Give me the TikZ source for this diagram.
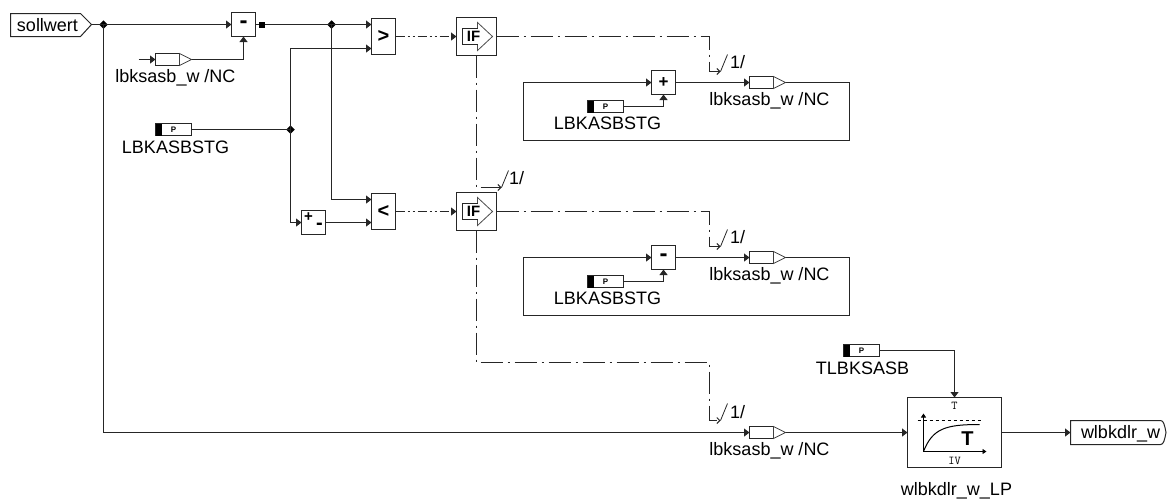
\documentclass[tikz,border=0pt]{standalone}
\usepackage{fontspec}
\setmainfont{Liberation Sans}
\usetikzlibrary{arrows.meta,shapes.geometric}
\tikzset{
  x=1pt,y=-1pt,
  every node/.style={inner sep=0pt,outer sep=0pt},
  base/.style={line width=1pt,line join=miter,draw=black!85},
  sig/.style={base,-{Triangle[length=5.5pt,width=8pt]}},
  wire/.style={base},
  ctl/.style={base,dash pattern=on 22pt off 5pt on 2pt off 5pt},
  ctlarrow/.style={ctl,-{Straight Barb[length=3pt,width=6pt]}},
  ctldd/.style={base,dash pattern=on 9pt off 3pt on 2pt off 3pt on 2pt off 3pt,-{Triangle[length=5.5pt,width=8pt]}},
  blk/.style={draw=black!85,line width=1pt,fill=white,rectangle},
  sq/.style={blk,minimum width=24pt,minimum height=24pt,font=\fontsize{17}{17}\selectfont\bfseries},
  mns/.style={font=\fontsize{24}{24}\selectfont\bfseries},
  cmpb/.style={blk,minimum width=24pt,minimum height=36pt,font=\fontsize{20}{20}\selectfont\bfseries},
  ifb/.style={blk,minimum width=40pt,minimum height=38pt},
  frm/.style={blk,minimum width=326pt,minimum height=58pt},
  port/.style={blk,minimum width=24pt,minimum height=12pt},
  par/.style={blk,minimum width=36pt,minimum height=12pt},
  lbl/.style={font=\fontsize{18}{18}\selectfont},
  ifx/.style={font=\fontsize{15}{15}\selectfont\bfseries},
  tiny/.style={font=\fontsize{8}{8}\selectfont\bfseries},
  jn/.style={diamond,fill=black,minimum width=8.5pt,minimum height=8.5pt},
  tri/.style={draw=black!75,line width=.8pt,fill=white},
}
\begin{document}
\begin{tikzpicture}
\useasboundingbox (0,0) rectangle (1167,499);
\begin{scope}[shift={(.5,.5)}]
% frames
\node[frm] (frameA) at (686,111) {};
\node[frm] (frameB) at (686,286) {};
% main blocks
\node[sq,mns] (minusA) at (243,24) {-};
\node[sq] (plusminus) at (313,222) {};
\node[font=\fontsize{15}{15}\selectfont\bfseries] (pmP) at (308,217) {+};
\node[font=\fontsize{20}{20}\selectfont\bfseries] (pmM) at (319,226) {-};
\node[cmpb] (gt) at (383,36) {>};
\node[cmpb] (lt) at (383,211) {<};
\node[ifb] (ifA) at (476,36) {};
\node[ifb] (ifB) at (476,211) {};
\node[sq] (plusB) at (663,82) {+};
\node[sq,mns] (minusC) at (663,257) {-};
\node[blk,minimum width=94pt,minimum height=70pt] (lp) at (954,432) {};
% junctions / coordinates
\node[jn] (j1) at (103,24) {};
\node[jn] (j2) at (331,24) {};
\node[jn] (j3) at (290,129) {};
\node[fill=black,minimum width=6pt,minimum height=6pt] (sqout) at (261,24) {};
\coordinate (gtA) at (371,24);
\coordinate (gtB) at (371,48);
\coordinate (ltA) at (371,199);
\coordinate (ltB) at (371,222);
\coordinate (mB) at (243,36);
% ports
\node[port] (inA) at (167,59) {};
\node[port] (outA) at (761,82) {};
\node[port] (outB) at (761,257) {};
\node[port] (outC) at (761,432) {};
\draw[tri] (inA.north east) -- (191,59) coordinate (inAt) -- (inA.south east) -- cycle;
\draw[tri] (outA.north east) -- (785,82) coordinate (outAt) -- (outA.south east) -- cycle;
\draw[tri] (outB.north east) -- (785,257) coordinate (outBt) -- (outB.south east) -- cycle;
\draw[tri] (outC.north east) -- (785,432) coordinate (outCt) -- (outC.south east) -- cycle;
% parameters
\node[par] (pA) at (173,129) {}; \node[tiny] (pAt) at (173,129) {P};
\node[par] (pB) at (605,106) {}; \node[tiny] (pBt) at (605,106) {P};
\node[par] (pC) at (605,281) {}; \node[tiny] (pCt) at (605,281) {P};
\node[par] (pD) at (861,350) {}; \node[tiny] (pDt) at (861,350) {P};
\fill[black] (pA.north west) rectangle ++(6,12);
\fill[black] (pB.north west) rectangle ++(6,12);
\fill[black] (pC.north west) rectangle ++(6,12);
\fill[black] (pD.north west) rectangle ++(6,12);
% IF symbols
\foreach \n/\yy in {A/36,B/211}{
  \draw[line width=.8pt,draw=black!70] (462,\yy-8) -- (477,\yy-8) -- (477,\yy-14) -- (492,\yy) -- (477,\yy+14) -- (477,\yy+8) -- (462,\yy+8) -- cycle;
  \draw[line width=1.6pt,draw=black!85] (477,\yy-8) -- (462,\yy-8) -- (462,\yy+8) -- (477,\yy+8);
  \node[ifx] (ift\n) at (473,\yy) {IF};
}
% sollwert and output ports
\node[lbl] (soll) at (47,25) {sollwert};
\draw[blk,fill=none] (10,13) -- (80,13) -- (91,24) coordinate (sollt) -- (80,36) -- (10,36) -- cycle;
\node[lbl] (wlb) at (1120,433) {wlbkdlr\_w};
\draw[blk,fill=none] (1070,420) -- (1160,420) .. controls (1163,420) and (1164,424) .. (1165.5,432) .. controls (1164,440) and (1163,444) .. (1160,444) -- (1070,444) -- cycle;
\coordinate (wlbin) at (1070,432);
% wires
\draw[wire] (sollt) -- (j1.center);
\draw[sig] (j1.center) -- (minusA.west);
\draw[wire] (minusA.east) -- (sqout.west);
\draw[wire] (sqout.east) -- (j2.center);
\draw[sig] (j2.center) -- (gtA);
\draw[sig] (j2.center) |- (ltA);
\draw[sig] (inAt) -| (mB);
\coordinate (inAs) at (138,59);
\draw[sig] (inAs) -- (inA.west);
\draw[wire] (pA.east) -- (j3.center);
\draw[sig] (j3.center) |- (gtB);
\draw[sig] (j3.center) |- (plusminus.west);
\draw[sig] (plusminus.east) -- (ltB);
\draw[sig] (j1.center) |- (outC.west);
\draw[sig] (outCt) -- (lp.west);
\draw[sig] (lp.east) -- (wlbin);
\draw[sig] (pD.east) -| (lp.north);
\draw[sig] (frameA.north west) -- (plusB.west);
\draw[sig] (plusB.east) -- (outA.west);
\draw[sig] (pB.east) -| (plusB.south);
\draw[sig] (frameB.north west) -- (minusC.west);
\draw[sig] (minusC.east) -- (outB.west);
\draw[sig] (pC.east) -| (minusC.south);
% control flow
\draw[ctldd] (gt.east) -- (ifA.west);
\draw[ctldd] (lt.east) -- (ifB.west);
\coordinate (cA) at (720,71);
\coordinate (cB) at (501,187);
\coordinate (cC) at (720,246);
\coordinate (cD) at (720,420);
\coordinate (cDb) at (709,362);
\draw[ctlarrow] (ifA.east) -| (709,71) -- (cA);
\draw[ctlarrow] (ifA.south) |- (cB);
\draw[ctlarrow] (ifB.east) -| (709,246) -- (cC);
\draw[ctlarrow] (ifB.south) |- (cDb) -- (709,420) -- (cD);
\draw[wire,line width=.8pt] (cA) -- ++(7,-17);
\draw[wire,line width=.8pt] (cB) -- ++(7,-17);
\draw[wire,line width=.8pt] (cC) -- ++(7,-17);
\draw[wire,line width=.8pt] (cD) -- ++(7,-17);
\node[lbl] (nA) at (737,62) {1/};
\node[lbl] (nB) at (516,178) {1/};
\node[lbl] (nC) at (737,237) {1/};
\node[lbl] (nD) at (737,412) {1/};
% labels
\node[lbl] (lInA) at (175,77) {lbksasb\_w /NC};
\node[lbl] (lOutA) at (769,100) {lbksasb\_w /NC};
\node[lbl] (lOutB) at (769,275) {lbksasb\_w /NC};
\node[lbl] (lOutC) at (769,450) {lbksasb\_w /NC};
\node[lbl] (lpA) at (175,147) {LBKASBSTG};
\node[lbl] (lpB) at (607,123) {LBKASBSTG};
\node[lbl] (lpC) at (607,298) {LBKASBSTG};
\node[lbl] (lpD) at (862,368) {TLBKSASB};
\node[lbl] (lLP) at (956,490) {wlbkdlr\_w\_LP};
% low pass symbol
\node[font=\fontsize{12}{12}\selectfont\ttfamily] (tT) at (954,405) {T};
\node[font=\fontsize{12}{12}\selectfont\ttfamily] (tIV) at (954,460) {IV};
\node[font=\fontsize{20}{20}\selectfont\bfseries] (tBig) at (967,438) {T};
\draw[line width=.8pt,-{Triangle[length=4pt,width=5pt]}] (923,451) -- (923,413);
\draw[line width=.8pt,-{Triangle[length=4pt,width=5pt]}] (923,451) -- (986,451);
\draw[line width=.7pt,dashed] (917,420) -- (980,420);
\draw[line width=1pt] (923,451) .. controls (932,428) and (945,424) .. (979,424);
\end{scope}
\end{tikzpicture}
\end{document}
